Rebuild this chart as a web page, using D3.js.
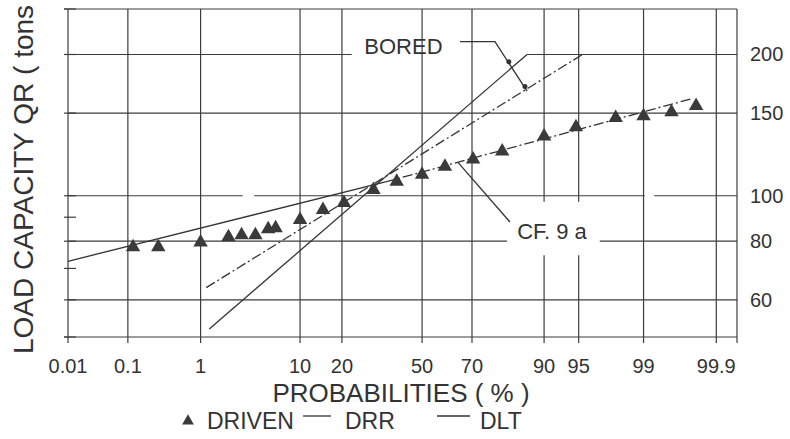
<!DOCTYPE html>
<html>
<head>
<meta charset="utf-8">
<script src="https://cdn.jsdelivr.net/npm/d3@7"></script>
<style>
    body { margin: 0; background: #fff; }
    svg { display: block; font-family: "Liberation Sans", Arial, sans-serif; }
    .grid { stroke: #3c3c3c; stroke-width: 1.2; fill: none; }
    .fit { stroke: #333; stroke-width: 1.3; fill: none; }
    .dashdot { stroke-dasharray: 10, 3, 2, 3; }
    text { fill: #333; }
</style>
</head>
<body>
<div id="graph"></div>
<script>
// axis values
var probTicks = [0.01, 0.1, 1, 10, 20, 50, 70, 90, 95, 99, 99.9];
var loadTicks = [50, 60, 70, 80, 90, 100, 150, 200, 250];
var loadGrid = [60, 80, 100, 150, 200];
var loadLabels = [60, 80, 100, 150, 200];

// driven piles (triangles)
var drivenProb = [0.12, 0.28, 1.0, 2.1, 2.9, 4.0, 5.3, 6.2, 10, 14.9, 20.6, 30.5, 39.5, 50, 59.5, 70.4, 80, 90, 94.7, 97.9, 99, 99.56, 99.8];
var drivenLoad = [77.7, 77.7, 79.6, 81.6, 82.4, 82.4, 84.9, 85.3, 88.8, 93.3, 96.6, 103.0, 107.2, 111.0, 115.4, 119.5, 124.3, 133.9, 140.0, 146.5, 147.9, 150.8, 155.4];

// fitted lines
var drivenFitProb = [0.01, 35], drivenFitLoad = [72.5, 107];
var drivenFit2Prob = [35, 99.77], drivenFit2Load = [107, 161];
var boredDrrProb = [1.27, 86.5], boredDrrLoad = [52, 200];
var boredDltProb = [1.17, 95.4], boredDltLoad = [63.7, 200];

// leaders and labels
var boredLeaderProb = [65.5, 77.8, 86.5], boredLeaderLoad = [213, 213, 167];
var boredDotProb = [81.9, 86.0], boredDotLoad = [193, 171];
var cfLeaderProb = [64.7, 82.2], cfLeaderLoad = [117.8, 87.9];

// gaps in the grid (data units)
var gridGaps = {200: [[23, 86.5]], 100: [[2.98, 3.89], [99.03, 99.26]], 80: [[81.4, 96.9]]};
var vGridGaps = {90: [74.7, 97.1], 95: [74.7, 97.1]};

function probit(p) {
    var a = [-39.69683028665376, 220.9460984245205, -275.9285104469687, 138.3577518672690, -30.66479806614716, 2.506628277459239],
        b = [-54.47609879822406, 161.5858368580409, -155.6989798598866, 66.80131188771972, -13.28068155288572],
        c = [-0.007784894002430293, -0.3223964580411365, -2.400758277161838, -2.549732539343734, 4.374664141464968, 2.938163982698783],
        d = [0.007784695709041462, 0.3224671290700398, 2.445134137142996, 3.754408661907416];
    var pl = 0.02425, q, r;
    if (p < pl) {
        q = Math.sqrt(-2 * Math.log(p));
        return (((((c[0] * q + c[1]) * q + c[2]) * q + c[3]) * q + c[4]) * q + c[5]) / ((((d[0] * q + d[1]) * q + d[2]) * q + d[3]) * q + 1);
    }
    if (p > 1 - pl) {
        q = Math.sqrt(-2 * Math.log(1 - p));
        return -(((((c[0] * q + c[1]) * q + c[2]) * q + c[3]) * q + c[4]) * q + c[5]) / ((((d[0] * q + d[1]) * q + d[2]) * q + d[3]) * q + 1);
    }
    q = p - 0.5;
    r = q * q;
    return (((((a[0] * r + a[1]) * r + a[2]) * r + a[3]) * r + a[4]) * r + a[5]) * q / (((((b[0] * r + b[1]) * r + b[2]) * r + b[3]) * r + b[4]) * r + 1);
}

var width = 790, height = 439;
var svg = d3.select("#graph").append("svg")
    .attr("width", width)
    .attr("height", height);

// probability paper: linear in normal quantile
var z = d3.scaleLinear().domain([probit(0.0001), probit(0.99953)]).range([68, 737]);
var x = function (p) { return z(probit(p / 100)); };
var y = d3.scaleLog().domain([50, 250]).range([337, 9]);

var x0 = x(0.01), x1 = z.range()[1], yTop = y(250), yBot = y(50);

function pts(ps, qs) {
    return ps.map(function (p, i) { return [x(p), y(qs[i])]; });
}
var line = d3.line();

// horizontal grid (with gaps)
loadGrid.forEach(function (v) {
    var segs = [], start = x0;
    (gridGaps[v] || []).forEach(function (g) {
        segs.push([start, x(g[0])]);
        start = x(g[1]);
    });
    segs.push([start, x1]);
    segs.forEach(function (s) {
        svg.append("line").attr("class", "grid")
            .attr("x1", s[0]).attr("x2", s[1])
            .attr("y1", y(v)).attr("y2", y(v));
    });
});

// frame top & bottom
svg.append("line").attr("class", "grid")
    .attr("x1", x0 - 4).attr("x2", x1).attr("y1", yTop).attr("y2", yTop);
svg.append("line").attr("class", "grid")
    .attr("x1", x0 - 4).attr("x2", x1).attr("y1", yBot).attr("y2", yBot);

// vertical grid + bottom ticks
probTicks.concat([null]).forEach(function (p) {
    var px = p === null ? x1 : x(p);
    var g = p !== null && vGridGaps[p];
    if (g) {
        svg.append("line").attr("class", "grid")
            .attr("x1", px).attr("x2", px).attr("y1", yTop).attr("y2", y(g[1]));
        svg.append("line").attr("class", "grid")
            .attr("x1", px).attr("x2", px).attr("y1", y(g[0])).attr("y2", yBot + 6);
    } else {
        svg.append("line").attr("class", "grid")
            .attr("x1", px).attr("x2", px).attr("y1", yTop).attr("y2", yBot + 6);
    }
});

// left ticks
loadTicks.forEach(function (v) {
    svg.append("line").attr("class", "grid")
        .attr("x1", x0 - 4).attr("x2", x0 + 8)
        .attr("y1", y(v)).attr("y2", y(v));
});

// tick labels
svg.selectAll("text.xt").data(probTicks).enter().append("text")
    .attr("class", "xt")
    .attr("x", function (d) { return x(d); })
    .attr("y", yBot + 36)
    .attr("text-anchor", "middle")
    .style("font-size", "20px")
    .text(function (d) { return d; });

svg.selectAll("text.yt").data(loadLabels).enter().append("text")
    .attr("class", "yt")
    .attr("x", x1 + 13)
    .attr("y", function (d) { return y(d) + 7; })
    .style("font-size", "20px")
    .text(function (d) { return d; });

// fitted lines
svg.append("path").attr("class", "fit").attr("d", line(pts(drivenFitProb, drivenFitLoad)));
svg.append("path").attr("class", "fit dashdot").attr("d", line(pts(drivenFit2Prob, drivenFit2Load)));
svg.append("path").attr("class", "fit").attr("d", line(pts(boredDrrProb, boredDrrLoad)));
svg.append("path").attr("class", "fit dashdot").attr("d", line(pts(boredDltProb, boredDltLoad)));

// leaders
svg.append("path").attr("class", "fit").attr("d", line(pts(boredLeaderProb, boredLeaderLoad)));
svg.selectAll("circle.dot").data(pts(boredDotProb, boredDotLoad)).enter().append("circle")
    .attr("class", "dot")
    .attr("cx", function (d) { return d[0]; })
    .attr("cy", function (d) { return d[1]; })
    .attr("r", 2.5)
    .style("fill", "#333");
svg.append("path").attr("class", "fit").attr("d", line(pts(cfLeaderProb, cfLeaderLoad)));

// driven points
var tri = d3.symbol().type(d3.symbolTriangle).size(90);
svg.selectAll("path.driven").data(pts(drivenProb, drivenLoad)).enter().append("path")
    .attr("class", "driven")
    .attr("transform", function (d) { return "translate(" + d[0] + "," + d[1] + ")"; })
    .attr("d", tri)
    .style("fill", "#3a3a3a");

// annotations
svg.append("text").attr("x", x(27.2)).attr("y", y(200.6))
    .style("font-size", "22px").text("BORED");
svg.append("text").attr("x", x(84.1)).attr("y", y(80.8))
    .style("font-size", "22px").text("CF. 9 a");

// axis titles (top of the y title runs to the edge, as in the scan)
svg.append("text")
    .attr("transform", "translate(33,354) rotate(-90)")
    .style("font-size", "28px")
    .text("LOAD CAPACITY QR ( tons");

svg.append("text")
    .attr("x", 401).attr("y", 402)
    .attr("text-anchor", "middle")
    .style("font-size", "26px")
    .text("PROBABILITIES ( % )");

// legend
var legend = svg.append("g").attr("transform", "translate(0,429)");
legend.append("path")
    .attr("transform", "translate(188,-8)")
    .attr("d", d3.symbol().type(d3.symbolTriangle).size(60))
    .style("fill", "#3a3a3a");
legend.append("text").attr("x", 207).style("font-size", "23px").text("DRIVEN");
legend.append("line").attr("class", "fit").attr("x1", 303).attr("x2", 331).attr("y1", -13).attr("y2", -13);
legend.append("text").attr("x", 345).style("font-size", "23px").text("DRR");
legend.append("line").attr("class", "fit").attr("x1", 437).attr("x2", 470).attr("y1", -13).attr("y2", -13);
legend.append("text").attr("x", 480).style("font-size", "23px").text("DLT");
</script>
</body>
</html>
